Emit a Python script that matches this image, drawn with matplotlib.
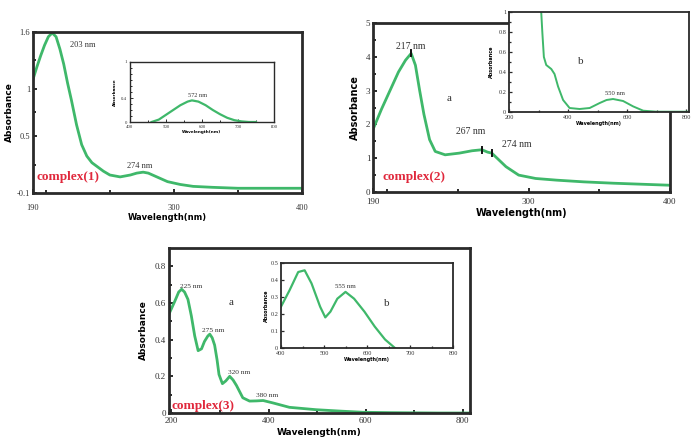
import matplotlib
matplotlib.use("Agg")
import matplotlib.pyplot as plt
import numpy as np

# ---------------- data ----------------
wl1 = [190, 193, 196, 199, 202, 205, 208, 211, 214, 217, 220, 224, 228, 232, 236, 240, 245, 250, 258, 266, 271, 276, 280, 285, 290, 295, 305, 315, 330, 350, 375, 400]
ab1 = [1.10, 1.23, 1.35, 1.46, 1.55, 1.59, 1.55, 1.42, 1.26, 1.06, 0.88, 0.62, 0.41, 0.29, 0.22, 0.18, 0.13, 0.09, 0.07, 0.09, 0.11, 0.12, 0.11, 0.08, 0.05, 0.02, -0.01, -0.03, -0.04, -0.05, -0.05, -0.05]
wl1b = [460, 480, 500, 520, 540, 560, 572, 590, 610, 630, 650, 670, 690, 710, 730, 750]
ab1b = [0.0, 0.04, 0.12, 0.20, 0.28, 0.34, 0.36, 0.34, 0.28, 0.20, 0.13, 0.07, 0.03, 0.01, 0.0, 0.0]

wl2 = [190, 196, 202, 208, 213, 217, 220, 223, 226, 230, 234, 241, 251, 260, 267, 271, 274, 279, 284, 293, 305, 320, 339, 360, 380, 400]
ab2 = [1.85, 2.45, 3.00, 3.55, 3.90, 4.10, 3.75, 3.00, 2.30, 1.55, 1.20, 1.10, 1.15, 1.22, 1.25, 1.18, 1.15, 0.95, 0.75, 0.50, 0.40, 0.35, 0.30, 0.26, 0.23, 0.20]
wl2b = [305, 309, 313, 318, 326, 343, 354, 366, 383, 405, 439, 473, 507, 530, 552, 586, 620, 654, 699, 760, 809]
ab2b = [1.30, 1.0, 0.785, 0.55, 0.47, 0.43, 0.38, 0.255, 0.12, 0.04, 0.03, 0.04, 0.09, 0.12, 0.13, 0.11, 0.056, 0.013, 0.003, 0.003, 0.003]

wl3 = [195, 207, 215, 221, 227, 234, 241, 248, 255, 262, 268, 275, 279, 284, 289, 294, 298, 305, 312, 320, 327, 334, 347, 361, 375, 389, 409, 443, 498, 550, 594, 650, 700, 750, 815]
ab3 = [0.54, 0.61, 0.66, 0.675, 0.66, 0.62, 0.53, 0.42, 0.34, 0.35, 0.39, 0.42, 0.43, 0.41, 0.37, 0.29, 0.21, 0.16, 0.175, 0.20, 0.18, 0.15, 0.083, 0.065, 0.066, 0.068, 0.055, 0.031, 0.018, 0.010, 0.004, 0.002, 0.001, 0.0, 0.0]
wl3b = [400, 420, 440, 455, 471, 491, 503, 515, 531, 550, 570, 594, 618, 642, 665]
ab3b = [0.243, 0.34, 0.447, 0.457, 0.38, 0.243, 0.18, 0.214, 0.29, 0.33, 0.29, 0.214, 0.126, 0.05, 0.0]

GREEN = '#3fb86a'
SPINE = '#2a2a2a'
SERIF = ['Liberation Serif', 'DejaVu Serif']
SANS = ['DejaVu Sans']

W, H = 699, 441
fig = plt.figure(figsize=(W / 100, H / 100), dpi=100)
fig.patch.set_facecolor('white')


def box(l, t, r, b):
    return [l / W, 1 - b / H, (r - l) / W, (b - t) / H]


def style(ax, lw, fs, tl=3):
    for s in ax.spines.values():
        s.set_linewidth(lw)
        s.set_color(SPINE)
    ax.tick_params(which='both', direction='in', labelsize=fs, colors=SPINE,
                   width=lw * 0.7, pad=2)
    ax.tick_params(which='major', length=tl)
    ax.tick_params(which='minor', length=tl * 0.7)
    for lab in ax.get_xticklabels() + ax.get_yticklabels():
        lab.set_fontfamily(SERIF)
        lab.set_color('#333333')


def fmt(v):
    return ('%g' % v)

# ---------- Panel 1 ----------
ax1 = fig.add_axes(box(33, 32, 302, 193))
ax1.plot(wl1, ab1, color=GREEN, lw=2.0)
ax1.set_xlim(190, 400)
ax1.set_ylim(-0.1, 1.6)
ax1.set_xticks([190, 300, 400])
ax1.set_xticks([200, 250, 350], minor=True)
ax1.set_yticks([-0.1, 0.5, 1, 1.6])
ax1.set_yticklabels([fmt(v) for v in [-0.1, 0.5, 1, 1.6]])
ax1.set_yticks([0.2, 0.75, 1.3], minor=True)
ax1.set_xticklabels(['190', '300', '400'])
style(ax1, 2.0, 6)
ax1.tick_params(axis='x', pad=8)
ax1.set_ylabel('Absorbance', fontsize=6.5, fontweight='bold', family=SANS, labelpad=2)
ax1.set_xlabel('Wavelength(nm)', fontsize=6, fontweight='bold', family=SANS, labelpad=1)
ax1.text(219, 1.44, '203 nm', fontsize=6, family=SERIF, color='#333')
ax1.text(263, 0.16, '274 nm', fontsize=6, family=SERIF, color='#333')
ax1.text(193, 0.04, 'complex(1)', fontsize=9.5, fontweight='bold', family=SERIF, color='#e0283c')

ax1b = fig.add_axes(box(130, 62, 274, 122))
ax1b.plot(wl1b, ab1b, color=GREEN, lw=1.6)
ax1b.set_xlim(400, 800)
ax1b.set_ylim(0, 1)
ax1b.set_xticks([400, 500, 600, 700, 800])
ax1b.set_yticks([0, 0.4, 1])
ax1b.set_yticklabels(['0', '0.4', '1'])
ax1b.set_yticks([0.1, 0.2, 0.3, 0.5, 0.6, 0.7, 0.8, 0.9], minor=True)
ax1b.set_xticks([450, 550, 650, 750], minor=True)
style(ax1b, 1.0, 3.5, tl=2)
ax1b.set_ylabel('Absorbance', fontsize=3, fontweight='bold', family=SANS, labelpad=3)
ax1b.set_xlabel('Wavelength(nm)', fontsize=3, fontweight='bold', family=SANS, labelpad=1)
ax1b.text(560, 0.42, '572 nm', fontsize=4.5, family=SERIF, color='#333')

# ---------- Panel 2 ----------
ax2 = fig.add_axes(box(373, 23, 670, 192))
ax2.plot(wl2, ab2, color=GREEN, lw=2.0)
ax2.set_xlim(190, 400)
ax2.set_ylim(0, 5)
ax2.set_xticks([190, 300, 400])
ax2.set_xticks([200, 250, 350], minor=True)
ax2.set_yticks([0, 1, 2, 3, 4, 5])
ax2.set_yticks([0.5, 1.5, 2.5, 3.5, 4.5], minor=True)
style(ax2, 2.0, 6.5)
ax2.tick_params(axis='x', pad=4)
ax2.set_ylabel('Absorbance', fontsize=7, fontweight='bold', family=SANS, labelpad=4)
ax2.set_xlabel('Wavelength(nm)', fontsize=7, fontweight='bold', family=SANS, labelpad=2)
for xm, ym in [(217, 4.10), (267, 1.25), (274, 1.15)]:
    ax2.plot([xm, xm], [ym - 0.09, ym + 0.09], color='#111', lw=1.4)
ax2.text(217, 4.22, '217 nm', fontsize=7, family=SERIF, color='#333', ha='center')
ax2.text(244, 2.7, 'a', fontsize=8, family=SERIF, color='#333', ha='center')
ax2.text(259, 1.72, '267 nm', fontsize=7, family=SERIF, color='#333', ha='center')
ax2.text(292, 1.33, '274 nm', fontsize=7, family=SERIF, color='#333', ha='center')
ax2.text(197, 0.35, 'complex(2)', fontsize=9.5, fontweight='bold', family=SERIF, color='#e0283c')

ax2b = fig.add_axes(box(509, 12, 689, 112))
ax2b.set_facecolor('white')
ax2b.plot(wl2b, ab2b, color=GREEN, lw=1.4)
ax2b.set_xlim(200, 809)
ax2b.set_ylim(0, 1)
ax2b.set_xticks([200, 400, 600, 800])
ax2b.set_xticks([300, 500, 700], minor=True)
ax2b.set_yticks([0, 0.2, 0.4, 0.6, 0.8, 1])
ax2b.set_yticklabels(['0', '0.2', '0.4', '0.6', '0.8', '1'])
ax2b.set_yticks([0.1, 0.3, 0.5, 0.7, 0.9], minor=True)
style(ax2b, 1.3, 4.5, tl=2.5)
ax2b.set_ylabel('Absorbance', fontsize=3.5, fontweight='bold', family=SANS, labelpad=3)
ax2b.set_xlabel('Wavelength(nm)', fontsize=3.5, fontweight='bold', family=SANS, labelpad=1)
ax2b.text(560, 0.17, '550 nm', fontsize=4.8, family=SERIF, color='#333', ha='center')
ax2b.text(432, 0.48, 'b', fontsize=8, family=SERIF, color='#333')

# ---------- Panel 3 ----------
ax3 = fig.add_axes(box(169, 248, 470, 413))
ax3.plot(wl3, ab3, color=GREEN, lw=2.0)
ax3.set_xlim(195, 815)
ax3.set_ylim(0, 0.9)
ax3.set_xticks([200, 400, 600, 800])
ax3.set_xticks([300, 500, 700], minor=True)
ax3.set_yticks([0, 0.2, 0.4, 0.6, 0.8])
ax3.set_yticklabels(['0', '0.2', '0.4', '0.6', '0.8'])
ax3.set_yticks([0.1, 0.3, 0.5, 0.7], minor=True)
style(ax3, 2.0, 6.5)
ax3.tick_params(axis='x', pad=3)
ax3.set_ylabel('Absorbance', fontsize=6.5, fontweight='bold', family=SANS, labelpad=5)
ax3.set_xlabel('Wavelength(nm)', fontsize=6.5, fontweight='bold', family=SANS, labelpad=2)
ax3.text(218, 0.68, '225 nm', fontsize=5.3, family=SERIF, color='#333')
ax3.text(262, 0.44, '275 nm', fontsize=5.3, family=SERIF, color='#333')
ax3.text(317, 0.21, '320 nm', fontsize=5.3, family=SERIF, color='#333')
ax3.text(375, 0.085, '380 nm', fontsize=5.3, family=SERIF, color='#333')
ax3.text(322, 0.59, 'a', fontsize=8, family=SERIF, color='#333', ha='center')
ax3.text(200, 0.02, 'complex(3)', fontsize=9.5, fontweight='bold', family=SERIF, color='#e0283c')

ax3b = fig.add_axes(box(281, 263, 453, 348))
ax3b.set_facecolor('white')
ax3b.plot(wl3b, ab3b, color=GREEN, lw=1.6)
ax3b.set_xlim(400, 800)
ax3b.set_ylim(0, 0.5)
ax3b.set_xticks([400, 500, 600, 700, 800])
ax3b.set_xticks([450, 550, 650, 750], minor=True)
ax3b.set_yticks([0, 0.1, 0.2, 0.3, 0.4, 0.5])
ax3b.set_yticklabels(['0', '0.1', '0.2', '0.3', '0.4', '0.5'])
style(ax3b, 1.3, 4.5, tl=2.5)
ax3b.set_ylabel('Absorbance', fontsize=3.5, fontweight='bold', family=SANS, labelpad=1)
ax3b.set_xlabel('Wavelength(nm)', fontsize=3.5, fontweight='bold', family=SANS, labelpad=1)
ax3b.text(549, 0.35, '555 nm', fontsize=5, family=SERIF, color='#333', ha='center')
ax3b.text(646, 0.25, 'b', fontsize=8, family=SERIF, color='#333', ha='center')

fig.savefig('out.png', dpi=100, facecolor='white')
